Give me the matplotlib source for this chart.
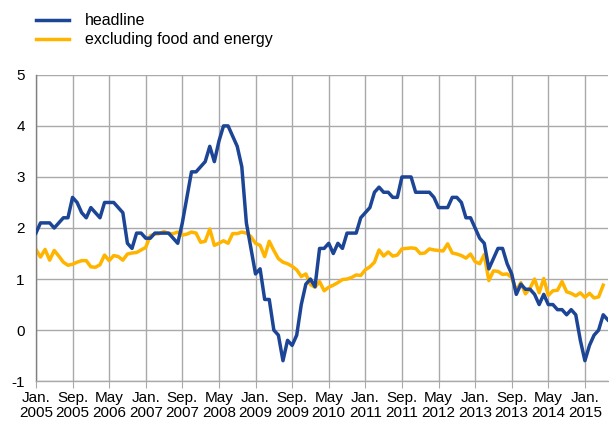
import numpy as np
import matplotlib
matplotlib.use('Agg')
import matplotlib.pyplot as plt

matplotlib.rcParams['font.family'] = ['Liberation Sans', 'DejaVu Sans']
matplotlib.rcParams['axes.unicode_minus'] = False

# ── Data: monthly annual rates, Jan 2005 onwards ─────────────────────────────
headline = [
    1.9, 2.1, 2.1, 2.1, 2.0, 2.1, 2.2, 2.2, 2.6, 2.5, 2.3, 2.2,   # 2005
    2.4, 2.3, 2.2, 2.5, 2.5, 2.5, 2.4, 2.3, 1.7, 1.6, 1.9, 1.9,   # 2006
    1.8, 1.8, 1.9, 1.9, 1.9, 1.9, 1.8, 1.7, 2.1, 2.6, 3.1, 3.1,   # 2007
    3.2, 3.3, 3.6, 3.3, 3.7, 4.0, 4.0, 3.8, 3.6, 3.2, 2.1, 1.6,   # 2008
    1.1, 1.2, 0.6, 0.6, 0.0, -0.1, -0.6, -0.2, -0.3, -0.1, 0.5, 0.9,  # 2009
    1.0, 0.85, 1.6, 1.6, 1.7, 1.5, 1.7, 1.6, 1.9, 1.9, 1.9, 2.2,  # 2010
    2.3, 2.4, 2.7, 2.8, 2.7, 2.7, 2.6, 2.6, 3.0, 3.0, 3.0, 2.7,   # 2011
    2.7, 2.7, 2.7, 2.6, 2.4, 2.4, 2.4, 2.6, 2.6, 2.5, 2.2, 2.2,   # 2012
    2.0, 1.8, 1.7, 1.2, 1.4, 1.6, 1.6, 1.3, 1.1, 0.7, 0.9, 0.8,   # 2013
    0.8, 0.7, 0.5, 0.7, 0.5, 0.5, 0.4, 0.4, 0.3, 0.4, 0.3, -0.2,  # 2014
    -0.6, -0.3, -0.1, 0.0, 0.3, 0.2,                              # 2015
]

core = [
    1.58, 1.43, 1.58, 1.37, 1.56, 1.45, 1.33, 1.27, 1.29, 1.33, 1.36, 1.36,  # 2005
    1.24, 1.23, 1.28, 1.47, 1.36, 1.46, 1.44, 1.37, 1.49, 1.51, 1.52, 1.57,  # 2006
    1.62, 1.85, 1.88, 1.89, 1.93, 1.89, 1.89, 1.92, 1.86, 1.88, 1.92, 1.90,  # 2007
    1.72, 1.74, 1.98, 1.66, 1.70, 1.75, 1.70, 1.89, 1.89, 1.92, 1.90, 1.83,  # 2008
    1.70, 1.66, 1.44, 1.74, 1.56, 1.40, 1.33, 1.30, 1.25, 1.18, 1.05, 1.10,  # 2009
    0.89, 0.84, 0.95, 0.77, 0.84, 0.88, 0.93, 0.99, 1.00, 1.03, 1.08, 1.07,  # 2010
    1.18, 1.24, 1.33, 1.57, 1.45, 1.53, 1.45, 1.47, 1.59, 1.60, 1.61, 1.60,  # 2011
    1.50, 1.51, 1.59, 1.57, 1.56, 1.55, 1.69, 1.51, 1.49, 1.46, 1.41, 1.49,  # 2012
    1.34, 1.30, 1.48, 0.97, 1.16, 1.15, 1.09, 1.10, 1.03, 0.77, 0.93, 0.71,  # 2013
    0.82, 1.00, 0.73, 1.01, 0.68, 0.77, 0.78, 0.95, 0.75, 0.72, 0.67, 0.73,  # 2014
    0.64, 0.72, 0.63, 0.65, 0.88,                                            # 2015
]

series_labels = ['headline', 'excluding food and energy']
tick_labels = ['Jan.\n2005', 'Sep.\n2005', 'May\n2006', 'Jan.\n2007',
               'Sep.\n2007', 'May\n2008', 'Jan.\n2009', 'Sep.\n2009',
               'May\n2010', 'Jan.\n2011', 'Sep.\n2011', 'May\n2012',
               'Jan.\n2013', 'Sep.\n2013', 'May\n2014', 'Jan.\n2015']

BLUE = '#1d4596'
YELLOW = '#ffb400'
GRID = '#a9a9a9'

fig = plt.figure(figsize=(6.09, 4.23), dpi=100)
ax = fig.add_axes([0.059, 0.099, 0.939, 0.724])

ax.plot(np.arange(len(headline)), headline, color=BLUE, lw=2.5,
        label=series_labels[0], solid_joinstyle='round', zorder=3)
ax.plot(np.arange(len(core)), core, color=YELLOW, lw=2.5,
        label=series_labels[1], solid_joinstyle='round', zorder=2)

ax.set_xlim(0, len(headline) - 1)
ax.set_ylim(-1, 5)
ax.set_yticks(np.arange(-1, 6, 1))
ax.set_xticks(np.arange(0, 8 * len(tick_labels), 8))
ax.set_xticklabels(tick_labels, linespacing=1.15)

ax.grid(True, color=GRID, lw=1.0)
ax.set_axisbelow(True)
for side in ['top', 'right']:
    ax.spines[side].set_visible(False)
ax.spines['left'].set_color('#808080')
ax.spines['bottom'].set_color(GRID)
ax.spines['left'].set_linewidth(1.0)
ax.spines['bottom'].set_linewidth(1.0)

ax.tick_params(axis='x', length=5, color=GRID, labelsize=11, pad=2)
ax.tick_params(axis='y', length=0, labelsize=11, pad=8)

ax.legend(loc='lower left', bbox_to_anchor=(-0.0, 1.09), frameon=False,
          fontsize=11.5, handlelength=2.1, handletextpad=0.95,
          labelspacing=0.25, borderaxespad=0, borderpad=0)

fig.savefig('out.png', dpi=100)
